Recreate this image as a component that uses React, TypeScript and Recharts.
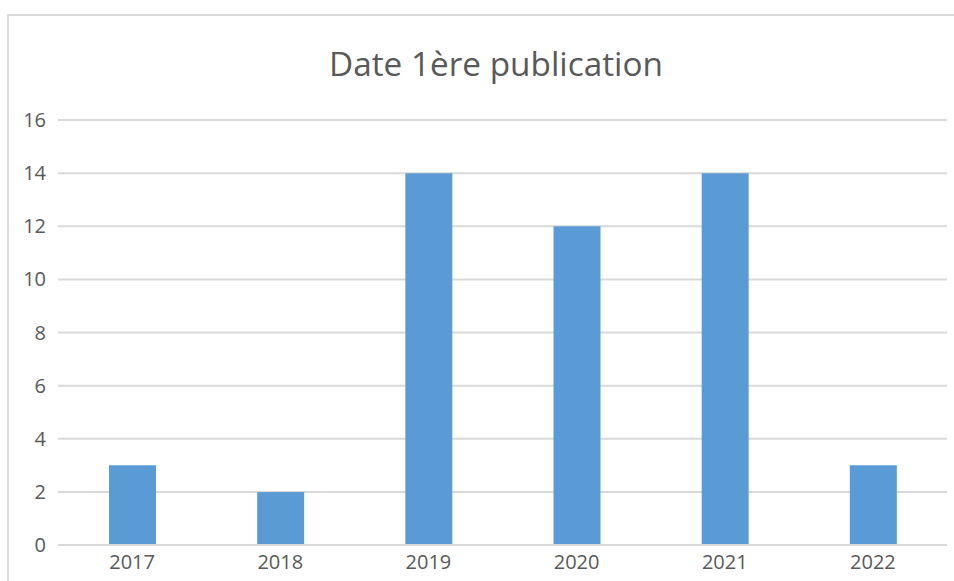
import { BarChart, Bar, XAxis, YAxis, CartesianGrid } from "recharts";

const years = ["2017", "2018", "2019", "2020", "2021", "2022"];
const counts = [3, 2, 14, 12, 14, 3];
const yTicks = [0, 2, 4, 6, 8, 10, 12, 14, 16];
const title = "Date 1ère publication";

const data = years.map((y, i) => ({ year: y, value: counts[i] }));

const App = () => {
  return (
    <div style={{ position: "absolute", left: 0, top: 0, width: 954, height: 581, overflow: "hidden", background: "#fff" }}>
      <div
        style={{
          position: "absolute",
          left: 7,
          top: 14,
          width: 1000,
          height: 700,
          border: "2px solid #d9d9d9",
        }}
      />
      <svg style={{ position: "absolute", left: 0, top: 0 }} width={954} height={110}>
        <text
          x={496}
          y={76}
          textAnchor="middle"
          fontFamily="Open Sans"
          fontSize={32}
          fill="#595959"
          textLength={334}
          lengthAdjust="spacingAndGlyphs"
        >
          {title}
        </text>
      </svg>
      <div style={{ position: "absolute", left: 0, top: 0 }}>
        <BarChart
          width={954}
          height={581}
          data={data}
          margin={{ top: 120, right: 7, bottom: 6, left: 0 }}
        >
          <CartesianGrid vertical={false} stroke="#d9d9d9" strokeWidth={2} />
          <XAxis
            dataKey="year"
            height={30}
            axisLine={{ stroke: "#d9d9d9", strokeWidth: 2 }}
            tickLine={false}
            tick={{ fill: "#595959", fontSize: 20, fontFamily: "Open Sans" }}
            tickMargin={4}
          />
          <YAxis
            width={58}
            domain={[0, 16]}
            ticks={yTicks}
            axisLine={false}
            tickLine={false}
            tick={{ fill: "#595959", fontSize: 20, fontFamily: "Open Sans" }}
            tickMargin={6}
          />
          <Bar dataKey="value" fill="#5b9bd5" barSize={47} isAnimationActive={false} />
        </BarChart>
      </div>
    </div>
  );
};

export default App;
